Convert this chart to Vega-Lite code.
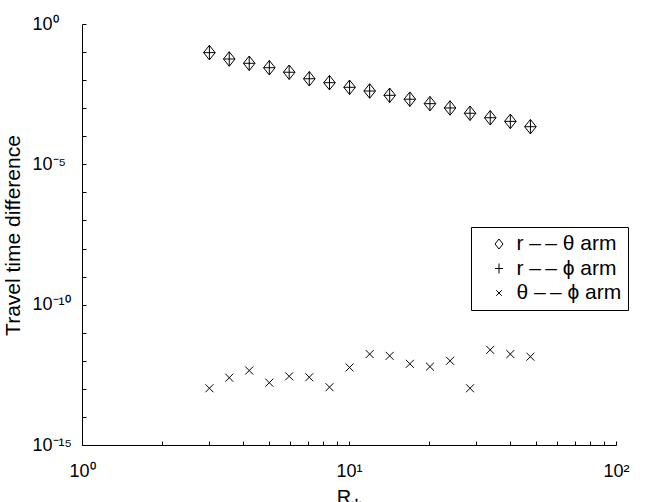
{
  "$schema": "https://vega.github.io/schema/vega-lite/v6.json",
  "width": 534,
  "height": 421,
  "autosize": {"type": "none"},
  "padding": {"left": 82, "top": 24, "right": 38, "bottom": 57},
  "background": "white",
  "config": {
    "view": {"stroke": null},
    "font": "Liberation Sans",
    "axis": {
      "domainColor": "black",
      "tickColor": "black",
      "labelColor": "black",
      "titleColor": "black",
      "labelFont": "Liberation Sans",
      "titleFont": "Liberation Sans",
      "labelFontSize": 18,
      "titleFontSize": 21,
      "titleFontWeight": "normal",
      "grid": false,
      "labelFlush": false,
      "labelOverlap": false,
      "labelBound": false,
      "tickSize": -4,
      "domainWidth": 1,
      "tickWidth": 1
    }
  },
  "data": {
    "values": [
      {"R": 3.0, "diff": 0.0955, "arm": "r \u2013\u2009\u2013 \u03b8 arm"},
      {"R": 3.56, "diff": 0.0566, "arm": "r \u2013\u2009\u2013 \u03b8 arm"},
      {"R": 4.23, "diff": 0.0398, "arm": "r \u2013\u2009\u2013 \u03b8 arm"},
      {"R": 5.03, "diff": 0.0277, "arm": "r \u2013\u2009\u2013 \u03b8 arm"},
      {"R": 5.97, "diff": 0.0191, "arm": "r \u2013\u2009\u2013 \u03b8 arm"},
      {"R": 7.1, "diff": 0.0112, "arm": "r \u2013\u2009\u2013 \u03b8 arm"},
      {"R": 8.45, "diff": 0.0081, "arm": "r \u2013\u2009\u2013 \u03b8 arm"},
      {"R": 10.05, "diff": 0.00556, "arm": "r \u2013\u2009\u2013 \u03b8 arm"},
      {"R": 11.95, "diff": 0.0041, "arm": "r \u2013\u2009\u2013 \u03b8 arm"},
      {"R": 14.2, "diff": 0.00288, "arm": "r \u2013\u2009\u2013 \u03b8 arm"},
      {"R": 16.9, "diff": 0.00209, "arm": "r \u2013\u2009\u2013 \u03b8 arm"},
      {"R": 20.1, "diff": 0.00145, "arm": "r \u2013\u2009\u2013 \u03b8 arm"},
      {"R": 23.9, "diff": 0.00102, "arm": "r \u2013\u2009\u2013 \u03b8 arm"},
      {"R": 28.4, "diff": 0.00066, "arm": "r \u2013\u2009\u2013 \u03b8 arm"},
      {"R": 33.8, "diff": 0.000457, "arm": "r \u2013\u2009\u2013 \u03b8 arm"},
      {"R": 40.2, "diff": 0.000339, "arm": "r \u2013\u2009\u2013 \u03b8 arm"},
      {"R": 47.8, "diff": 0.000219, "arm": "r \u2013\u2009\u2013 \u03b8 arm"},
      {"R": 3.0, "diff": 0.0955, "arm": "r \u2013\u2009\u2013 \u03d5 arm"},
      {"R": 3.56, "diff": 0.0566, "arm": "r \u2013\u2009\u2013 \u03d5 arm"},
      {"R": 4.23, "diff": 0.0398, "arm": "r \u2013\u2009\u2013 \u03d5 arm"},
      {"R": 5.03, "diff": 0.0277, "arm": "r \u2013\u2009\u2013 \u03d5 arm"},
      {"R": 5.97, "diff": 0.0191, "arm": "r \u2013\u2009\u2013 \u03d5 arm"},
      {"R": 7.1, "diff": 0.0112, "arm": "r \u2013\u2009\u2013 \u03d5 arm"},
      {"R": 8.45, "diff": 0.0081, "arm": "r \u2013\u2009\u2013 \u03d5 arm"},
      {"R": 10.05, "diff": 0.00556, "arm": "r \u2013\u2009\u2013 \u03d5 arm"},
      {"R": 11.95, "diff": 0.0041, "arm": "r \u2013\u2009\u2013 \u03d5 arm"},
      {"R": 14.2, "diff": 0.00288, "arm": "r \u2013\u2009\u2013 \u03d5 arm"},
      {"R": 16.9, "diff": 0.00209, "arm": "r \u2013\u2009\u2013 \u03d5 arm"},
      {"R": 20.1, "diff": 0.00145, "arm": "r \u2013\u2009\u2013 \u03d5 arm"},
      {"R": 23.9, "diff": 0.00102, "arm": "r \u2013\u2009\u2013 \u03d5 arm"},
      {"R": 28.4, "diff": 0.00066, "arm": "r \u2013\u2009\u2013 \u03d5 arm"},
      {"R": 33.8, "diff": 0.000457, "arm": "r \u2013\u2009\u2013 \u03d5 arm"},
      {"R": 40.2, "diff": 0.000339, "arm": "r \u2013\u2009\u2013 \u03d5 arm"},
      {"R": 47.8, "diff": 0.000219, "arm": "r \u2013\u2009\u2013 \u03d5 arm"},
      {"R": 3.0, "diff": 1.05e-13, "arm": "\u03b8 \u2013\u2009\u2013 \u03d5 arm"},
      {"R": 3.56, "diff": 2.5e-13, "arm": "\u03b8 \u2013\u2009\u2013 \u03d5 arm"},
      {"R": 4.23, "diff": 4.5e-13, "arm": "\u03b8 \u2013\u2009\u2013 \u03d5 arm"},
      {"R": 5.03, "diff": 1.66e-13, "arm": "\u03b8 \u2013\u2009\u2013 \u03d5 arm"},
      {"R": 5.97, "diff": 2.8e-13, "arm": "\u03b8 \u2013\u2009\u2013 \u03d5 arm"},
      {"R": 7.1, "diff": 2.6e-13, "arm": "\u03b8 \u2013\u2009\u2013 \u03d5 arm"},
      {"R": 8.45, "diff": 1.15e-13, "arm": "\u03b8 \u2013\u2009\u2013 \u03d5 arm"},
      {"R": 10.05, "diff": 5.8e-13, "arm": "\u03b8 \u2013\u2009\u2013 \u03d5 arm"},
      {"R": 11.95, "diff": 1.74e-12, "arm": "\u03b8 \u2013\u2009\u2013 \u03d5 arm"},
      {"R": 14.2, "diff": 1.5e-12, "arm": "\u03b8 \u2013\u2009\u2013 \u03d5 arm"},
      {"R": 16.9, "diff": 7.8e-13, "arm": "\u03b8 \u2013\u2009\u2013 \u03d5 arm"},
      {"R": 20.1, "diff": 6.2e-13, "arm": "\u03b8 \u2013\u2009\u2013 \u03d5 arm"},
      {"R": 23.9, "diff": 1.0e-12, "arm": "\u03b8 \u2013\u2009\u2013 \u03d5 arm"},
      {"R": 28.4, "diff": 1.05e-13, "arm": "\u03b8 \u2013\u2009\u2013 \u03d5 arm"},
      {"R": 33.8, "diff": 2.45e-12, "arm": "\u03b8 \u2013\u2009\u2013 \u03d5 arm"},
      {"R": 40.2, "diff": 1.74e-12, "arm": "\u03b8 \u2013\u2009\u2013 \u03d5 arm"},
      {"R": 47.8, "diff": 1.4e-12, "arm": "\u03b8 \u2013\u2009\u2013 \u03d5 arm"}
    ]
  },
  "mark": {"type": "point", "filled": false, "color": "black", "strokeWidth": 1, "size": 210, "opacity": 1},
  "encoding": {
    "x": {
      "field": "R", "type": "quantitative",
      "scale": {"type": "log", "domain": [1, 100], "nice": false},
      "axis": {
        "values": [1, 2, 3, 4, 5, 6, 7, 8, 9, 10, 20, 30, 40, 50, 60, 70, 80, 90, 100],
        "labelExpr": "datum.value == 1 ? '10\u2070' : datum.value == 10 ? '10\u00b9' : datum.value == 100 ? '10\u00b2' : ''",
        "labelPadding": 21,
        "title": "R\u204e",
        "titleFontSize": 20,
        "titlePadding": 7
      }
    },
    "y": {
      "field": "diff", "type": "quantitative",
      "scale": {"type": "log", "domain": [1e-15, 1], "nice": false},
      "axis": {
        "values": [1, 1e-1, 1e-2, 1e-3, 1e-4, 1e-5, 1e-6, 1e-7, 1e-8, 1e-9, 1e-10, 1e-11, 1e-12, 1e-13, 1e-14, 1e-15],
        "labelExpr": "round(log(datum.value)/LN10) == 0 ? '10\u2070' : round(log(datum.value)/LN10) == -5 ? '10\u207b\u2075' : round(log(datum.value)/LN10) == -10 ? '10\u207b\u00b9\u2070' : round(log(datum.value)/LN10) == -15 ? '10\u207b\u00b9\u2075' : ''",
        "labelAlign": "left",
        "labelPadding": 54,
        "title": "Travel time difference",
        "titleX": -69,
        "titleY": 211,
        "titleAlign": "center",
        "titleBaseline": "middle",
        "titleAngle": -90
      }
    },
    "shape": {
      "field": "arm", "type": "nominal",
      "scale": {
        "domain": ["r \u2013\u2009\u2013 \u03b8 arm", "r \u2013\u2009\u2013 \u03d5 arm", "\u03b8 \u2013\u2009\u2013 \u03d5 arm"],
        "range": ["M0,-1L0.8,0L0,1L-0.8,0Z", "M-0.8,0L0.8,0M0,-1L0,1", "M-0.55,-0.55L0.55,0.55M-0.55,0.55L0.55,-0.55"]
      },
      "legend": {
        "title": null,
        "orient": "none",
        "legendX": 389,
        "legendY": 203,
        "strokeColor": "black",
        "fillColor": "white",
        "padding": 6.5,
        "symbolOffset": 11,
        "symbolSize": 100,
        "symbolStrokeColor": "black",
        "symbolStrokeWidth": 1,
        "labelFont": "Liberation Sans",
        "labelFontSize": 21,
        "labelColor": "black",
        "labelOffset": 7,
        "labelLimit": 300,
        "rowPadding": 2.5
      }
    }
  }
}
